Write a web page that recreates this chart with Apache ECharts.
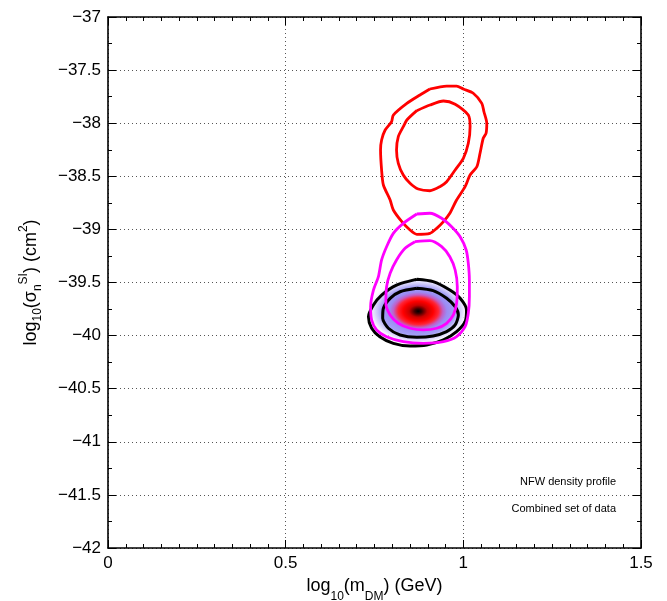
<!DOCTYPE html>
<html>
<head>
<meta charset="utf-8">
<script src="https://cdn.jsdelivr.net/npm/echarts@6/dist/echarts.min.js"></script>
<style>
  html, body { margin: 0; padding: 0; background: #fff; }
  #chart { width: 667px; height: 601px; }
</style>
</head>
<body>
<div id="chart"></div>
<script>
// axis ranges / ticks
const xRange = [0, 1.5]
const yRange = [-42, -37]
const xStep = 0.5
const yStep = 0.5

// contour outlines, [log10 m, log10 sigma]
const redOuter = [
  [0.906, -37.678], [0.953, -37.650], [0.981, -37.650], [1.000, -37.678], [1.028, -37.718],
  [1.052, -37.813], [1.058, -37.892], [1.066, -38.001], [1.064, -38.095], [1.056, -38.142],
  [1.047, -38.283], [1.038, -38.410], [1.019, -38.488], [1.005, -38.598], [0.981, -38.723],
  [0.962, -38.848], [0.944, -38.927], [0.925, -38.990], [0.906, -39.037], [0.869, -39.046],
  [0.850, -39.006], [0.827, -38.927], [0.803, -38.817], [0.794, -38.723], [0.775, -38.582],
  [0.770, -38.441], [0.767, -38.252], [0.770, -38.158], [0.780, -38.064], [0.798, -37.986],
  [0.803, -37.923], [0.841, -37.813], [0.878, -37.734]
]
const redInner = [
  [0.869, -37.882], [0.906, -37.829], [0.944, -37.791], [0.977, -37.822], [1.014, -37.923],
  [1.019, -38.033], [1.014, -38.189], [1.000, -38.331], [0.977, -38.441], [0.953, -38.551],
  [0.934, -38.598], [0.906, -38.636], [0.873, -38.620], [0.850, -38.566], [0.831, -38.488],
  [0.817, -38.378], [0.812, -38.252], [0.817, -38.127], [0.831, -38.033], [0.841, -37.970]
]
const magentaOuter = [
  [0.869, -38.855], [0.906, -38.848], [0.939, -38.895], [0.967, -38.975], [0.991, -39.069],
  [1.008, -39.194], [1.014, -39.319], [1.017, -39.476], [1.017, -39.634], [1.014, -39.790],
  [1.005, -39.916], [0.981, -40.010], [0.944, -40.057], [0.887, -40.073], [0.831, -40.057],
  [0.784, -40.010], [0.756, -39.947], [0.742, -39.853], [0.739, -39.728], [0.747, -39.571],
  [0.761, -39.445], [0.770, -39.288], [0.784, -39.163], [0.803, -39.037], [0.831, -38.943]
]
const magentaInner = [
  [0.864, -39.116], [0.906, -39.106], [0.939, -39.163], [0.962, -39.257], [0.977, -39.382],
  [0.983, -39.540], [0.981, -39.696], [0.972, -39.806], [0.953, -39.884], [0.925, -39.931],
  [0.887, -39.947], [0.850, -39.931], [0.817, -39.884], [0.794, -39.806], [0.782, -39.696],
  [0.784, -39.540], [0.794, -39.413], [0.812, -39.288], [0.836, -39.178]
]
const blackOuter = [
  [0.869, -39.470], [0.915, -39.492], [0.962, -39.571], [0.991, -39.649], [1.009, -39.759],
  [1.005, -39.869], [0.981, -39.963], [0.944, -40.041], [0.897, -40.089], [0.850, -40.098],
  [0.803, -40.073], [0.765, -40.010], [0.742, -39.931], [0.733, -39.822], [0.747, -39.712],
  [0.770, -39.618], [0.812, -39.524]
]
const blackInner = [
  [0.869, -39.555], [0.915, -39.577], [0.953, -39.649], [0.977, -39.728], [0.986, -39.806],
  [0.977, -39.900], [0.953, -39.963], [0.915, -40.004], [0.869, -40.016], [0.822, -39.994],
  [0.789, -39.931], [0.773, -39.837], [0.775, -39.743], [0.794, -39.649], [0.822, -39.587]
]
// posterior density blob: centre x, centre y, half width, half height
const densityBlob = [[0.873, -39.77, 0.142, 0.315]]

const labelLines = ['NFW density profile', 'Combined set of data']

const FONT = '"Liberation Sans", Arial, Helvetica, sans-serif'

function closed(pts) {
  return pts.concat([pts[0]])
}

function fmtMinus(v) {
  return String(v).replace('-', '\u2212')
}

const chart = echarts.init(document.getElementById('chart'), null, { renderer: 'canvas' })

const baseAxis = {
  type: 'value',
  axisLine: { show: true, onZero: false, lineStyle: { color: '#000', width: 1.6 } },
  axisTick: { show: true, inside: true, length: 8, lineStyle: { color: '#000', width: 1 } },
  minorTick: { show: true, length: 4, lineStyle: { color: '#000', width: 1 } },
}

const dots = { color: '#555', width: 1, type: [1, 3] }

const densityFill = new echarts.graphic.RadialGradient(0.5, 0.5, 0.5, [
  { offset: 0, color: '#000000' },
  { offset: 0.07, color: '#3c0000' },
  { offset: 0.18, color: '#c80000' },
  { offset: 0.3, color: '#ff0000' },
  { offset: 0.4, color: '#ff2436' },
  { offset: 0.49, color: '#c060c8' },
  { offset: 0.57, color: '#9a8cf4' },
  { offset: 0.72, color: '#a39ff6' },
  { offset: 0.8, color: '#c6c1f9' },
  { offset: 0.9, color: '#eae8fd' },
  { offset: 1, color: 'rgba(255,255,255,0)' },
])

function contour(data, color, width, z) {
  return {
    type: 'line',
    data: closed(data),
    symbol: 'none',
    smooth: 0.25,
    silent: true,
    z,
    lineStyle: { color, width, join: 'round' },
  }
}

chart.setOption({
  animation: false,
  backgroundColor: '#fff',
  grid: { left: 108, right: 26, top: 17, bottom: 53, containLabel: false, outerBoundsMode: 'none' },
  xAxis: [
    {
      ...baseAxis,
      position: 'bottom',
      min: xRange[0],
      max: xRange[1],
      interval: xStep,
      minorTick: { ...baseAxis.minorTick, splitNumber: 10 },
      splitLine: { show: true, lineStyle: dots },
      axisLabel: { color: '#000', fontSize: 17, fontFamily: FONT, margin: 7 },
      name: '{m|log}{s|10}{m|(m}{s|DM}{m|) (GeV)}',
      nameLocation: 'middle',
      nameGap: 26,
      nameTextStyle: {
        rich: {
          m: { fontSize: 18, fontFamily: FONT, color: '#000', lineHeight: 26, verticalAlign: 'top' },
          s: { fontSize: 12, fontFamily: FONT, color: '#000', lineHeight: 14, verticalAlign: 'bottom' },
        },
      },
    },
    {
      ...baseAxis,
      position: 'top',
      min: xRange[0],
      max: xRange[1],
      interval: xStep,
      minorTick: { ...baseAxis.minorTick, splitNumber: 10 },
      splitLine: { show: false },
      axisLabel: { show: false },
    },
  ],
  yAxis: [
    {
      ...baseAxis,
      position: 'left',
      min: yRange[0],
      max: yRange[1],
      interval: yStep,
      minorTick: { ...baseAxis.minorTick, splitNumber: 2 },
      splitLine: { show: true, lineStyle: dots },
      axisLabel: { color: '#000', fontSize: 17, fontFamily: FONT, margin: 7, formatter: fmtMinus },
      name: '{m|log}{s|10}{m|(\u03c3}{s|n}{p|SI}{m|) (cm}{p|2}{m|)}',
      nameLocation: 'middle',
      nameRotate: 90,
      nameGap: 64,
      nameTextStyle: {
        rich: {
          m: { fontSize: 18, fontFamily: FONT, color: '#000', lineHeight: 26, verticalAlign: 'middle' },
          s: { fontSize: 12, fontFamily: FONT, color: '#000', lineHeight: 12, verticalAlign: 'bottom' },
          p: { fontSize: 12, fontFamily: FONT, color: '#000', lineHeight: 12, verticalAlign: 'top' },
        },
      },
    },
    {
      ...baseAxis,
      position: 'right',
      min: yRange[0],
      max: yRange[1],
      interval: yStep,
      minorTick: { ...baseAxis.minorTick, splitNumber: 2 },
      splitLine: { show: false },
      axisLabel: { show: false },
    },
  ],
  graphic: labelLines.map((t, i) => ({
    type: 'text',
    x: 616,
    y: 482 + i * 27,
    silent: true,
    style: {
      text: t,
      font: '11px ' + FONT,
      fill: '#000',
      textAlign: 'right',
      textVerticalAlign: 'middle',
    },
  })),
  series: [
    {
      type: 'custom',
      data: densityBlob,
      silent: true,
      z: 1,
      renderItem(params, api) {
        const c = api.coord([api.value(0), api.value(1)])
        const s = api.size([api.value(2), api.value(3)])
        return {
          type: 'group',
          x: c[0],
          y: c[1],
          scaleX: s[0] / s[1],
          children: [{
            type: 'circle',
            shape: { cx: 0, cy: 0, r: s[1] },
            style: { fill: densityFill },
          }],
        }
      },
    },
    contour(blackOuter, '#000', 3, 2),
    contour(blackInner, '#000', 3, 2),
    contour(redOuter, '#ff0000', 2.8, 3),
    contour(redInner, '#ff0000', 2.8, 3),
    contour(magentaOuter, '#ff00ff', 2.8, 4),
    contour(magentaInner, '#ff00ff', 2.8, 4),
  ],
})
</script>
</body>
</html>
